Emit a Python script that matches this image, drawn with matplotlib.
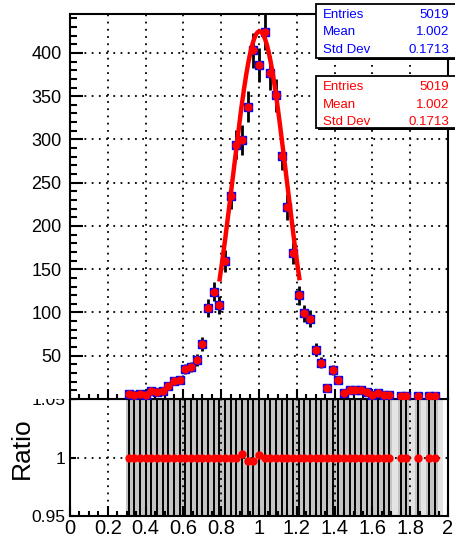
import matplotlib
matplotlib.use('agg')

import matplotlib.pyplot as plt
import numpy as np
from matplotlib.patches import Rectangle
from matplotlib.ticker import MultipleLocator

plt.rcParams['font.family'] = ['Liberation Sans', 'DejaVu Sans']

# histogram contents, bins of 0.03 centred on 0.31 ... 1.96
bin_width = 0.03
bin_centers = np.round(0.31 + bin_width * np.arange(56), 3)
counts = [6, 5, 6, 5, 9, 8, 9, 15, 21, 22, 35, 37, 45,
          64, 105, 124, 109, 160, 235, 294, 299, 338, 403, 386, 424, 377,
          351, 281, 222, 169, 120, 99, 93, 57, 42, 13, 33, 22, 7, 10,
          10, 10, 8, 5, 7, 5, 5, 0, 4, 4, 0, 3, 0, 3, 3, 0]

# ratio of the two histograms (only where the bin is filled)
ratio = [1.0] * 56
ratio[20] = 1.0032
ratio[21] = 0.9966
ratio[22] = 0.9972
ratio[23] = 1.0025

# gaussian fit
fit_amp = 425.0
fit_mean = 1.003
fit_sigma = 0.141
fit_range = (0.79, 1.215)

entries = "5019"
mean_txt = "1.002"
std_txt = "0.1713"

counts = np.array(counts, dtype=float)
ratio = np.array(ratio)
filled = counts > 0

W, H = 455, 538
fig = plt.figure(figsize=(W / 100, H / 100), dpi=100)

left = 70 / W
right = 448 / W
split = (H - 399) / H
ax = fig.add_axes([left, split, right - left, (H - 14) / H - split])
axr = fig.add_axes([left, 22 / H, right - left, split - 22 / H])

grid_kw = dict(color='black', linestyle=(0, (1, 3)), linewidth=1.3, zorder=1.5)

# ---- upper pad
for gx in np.arange(0.2, 1.9, 0.2):
    ax.axvline(gx, **grid_kw)
for gy in np.arange(50, 401, 50):
    ax.axhline(gy, **grid_kw)

xs = bin_centers[filled]
ys = counts[filled]
ax.errorbar(xs, ys, yerr=np.sqrt(ys), fmt='none', ecolor='black', elinewidth=2, zorder=3)
ax.plot(xs, ys, 's', color='blue', markersize=5.5, zorder=4)
ax.plot(xs, ys, 'o', color='red', markersize=5, zorder=5)

xf = np.linspace(fit_range[0], fit_range[1], 200)
ax.plot(xf, fit_amp * np.exp(-0.5 * ((xf - fit_mean) / fit_sigma) ** 2),
        color='red', linewidth=3.2, zorder=6, solid_capstyle='butt')

ax.set_xlim(0, 2)
ax.set_ylim(0, 445)
ax.set_yticks(np.arange(50, 401, 50))
ax.yaxis.set_minor_locator(MultipleLocator(10))
ax.xaxis.set_major_locator(MultipleLocator(0.2))
ax.xaxis.set_minor_locator(MultipleLocator(0.05))
ax.tick_params(axis='y', which='major', direction='in', length=9, width=1.5, labelsize=13, pad=6)
ax.tick_params(axis='y', which='minor', direction='in', length=5, width=1.5)
ax.tick_params(axis='x', which='major', direction='in', length=7, width=1.5, labelbottom=False)
ax.tick_params(axis='x', which='minor', direction='in', length=3.5, width=1.5)
for s in ax.spines.values():
    s.set_linewidth(1.5)

# ---- lower pad
for gx in np.arange(0.2, 1.9, 0.2):
    axr.axvline(gx, **grid_kw)
axr.axhline(1.0, **grid_kw)

band_colors = ['#c4c4c4' if f else '#e4e4e4' for f in filled]
axr.bar(bin_centers, 1.0, width=bin_width, bottom=0.95, color=band_colors, zorder=1)
axr.vlines(bin_centers[filled], 0.95, 1.05, color='black', linewidth=1.4, zorder=2)
axr.plot(bin_centers[filled], ratio[filled], 'o', color='red', markersize=5, zorder=5)

axr.set_xlim(0, 2)
axr.set_ylim(0.95, 1.05)
axr.set_yticks([0.95, 1.0, 1.05])
axr.set_yticklabels(['0.95', '1', '1.05'])
axr.set_xticks(np.arange(0, 2.01, 0.2))
axr.set_xticklabels(['0', '0.2', '0.4', '0.6', '0.8', '1', '1.2', '1.4', '1.6', '1.8', '2'])
axr.xaxis.set_minor_locator(MultipleLocator(0.05))
axr.tick_params(axis='x', which='major', direction='in', length=7, width=1.5, labelsize=14.5, pad=2)
axr.tick_params(axis='x', which='minor', direction='in', length=3.5, width=1.5)
axr.tick_params(axis='y', which='major', direction='in', length=4, width=1.5, labelsize=12.5, pad=3)
axr.set_ylabel('Ratio', fontsize=19)
axr.yaxis.set_label_coords(-0.095, 0.58)
for s in axr.spines.values():
    s.set_linewidth(1.5)
ax.set_zorder(3)

# hide the upper half of the "1.05" label like the upper pad does
fig.add_artist(Rectangle((0, split), left - 0.002, 0.03, transform=fig.transFigure,
                         facecolor='white', edgecolor='none', zorder=10))

# ---- stats boxes
def stats_box(top_px, bot_px, color):
    x0 = 316 / W
    y0 = (H - bot_px) / H
    h = (bot_px - top_px) / H
    fig.add_artist(Rectangle((x0 + 0.004, y0 - 0.004), 1.0, h, transform=fig.transFigure,
                             facecolor='black', edgecolor='none', zorder=11))
    fig.add_artist(Rectangle((x0, y0), 1.0, h, transform=fig.transFigure,
                             facecolor='white', edgecolor='black', linewidth=1.3, zorder=12))
    rows = [("Entries", entries), ("Mean", mean_txt), ("Std Dev", std_txt)]
    for i, (k, v) in enumerate(rows):
        yy = (H - (top_px + 11 + i * 17.5)) / H
        fig.text(323 / W, yy, k, color=color, fontsize=9.5, va='center', ha='left', zorder=13)
        fig.text(449 / W, yy, v, color=color, fontsize=9.5, va='center', ha='right', zorder=13)

stats_box(4, 58, 'blue')
stats_box(76, 128, 'red')

fig.savefig('out.png', dpi=100)
